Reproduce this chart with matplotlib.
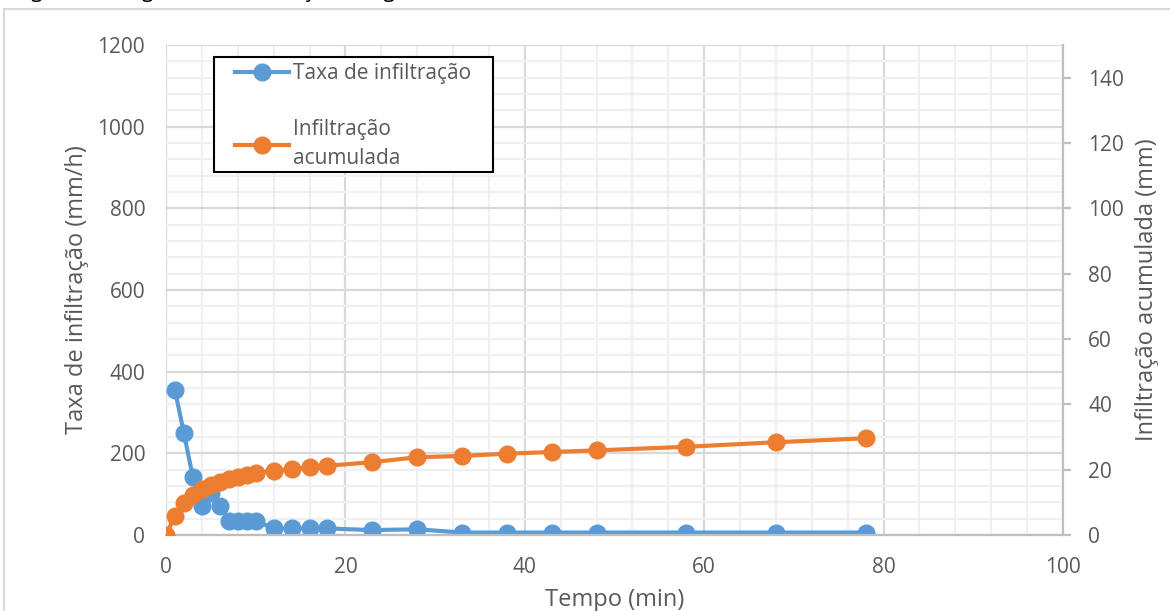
import matplotlib.pyplot as plt
from matplotlib.patches import Rectangle
from matplotlib.ticker import MultipleLocator

plt.rcParams['font.family'] = ['Open Sans', 'DejaVu Sans']

# tempo (min) e leituras do ensaio
tempo_taxa = [1, 2, 3, 4, 5, 6, 7, 8, 9, 10, 12, 14, 16, 18, 23, 28, 33, 38, 43, 48, 58, 68, 78]
taxa = [355, 249, 141, 71, 104, 71, 35, 35, 35, 35, 16, 16, 16, 16, 12, 14, 6, 6, 6, 6, 6, 6, 6]

tempo_acum = [0, 1, 2, 3, 4, 5, 6, 7, 8, 9, 10, 12, 14, 16, 18, 23, 28, 33, 38, 43, 48, 58, 68, 78]
acumulada = [0, 5.9, 9.9, 12.2, 14.0, 15.3, 16.3, 17.1, 17.9, 18.5, 19.1, 19.5, 20.1, 20.7,
             21.2, 22.3, 23.8, 24.2, 24.9, 25.4, 25.9, 27.0, 28.4, 29.6]

azul = '#5B9BD5'
laranja = '#ED7D31'
cinza = '#595959'

fig = plt.figure(figsize=(11.7, 6.11), dpi=100)
ax1 = fig.add_axes([166 / 1170, 76 / 611, 897 / 1170, 490 / 611])
ax2 = ax1.twinx()

# moldura externa do gráfico
fig.patches.append(Rectangle((4 / 1170, -0.05), 1.1, 1 - 9 / 611 + 0.05, transform=fig.transFigure,
                             fill=False, edgecolor='#D9D9D9', linewidth=1.5))
fig.text(15 / 1170, 1 + 19 / 611, 'Figura 3 - Diagrama de infiltração de água no solo do ensaio 3, acumulada',
         fontsize=15, color='black', va='top', ha='left')

ax1.plot(tempo_taxa, taxa, color=azul, linewidth=3, marker='o', markersize=12,
         label='Taxa de infiltração')
ax2.plot(tempo_acum, acumulada, color=laranja, linewidth=3, marker='o', markersize=12,
         label='Infiltração\nacumulada')

ax1.set_xlim(0, 100)
ax1.set_ylim(0, 1200)
ax2.set_ylim(0, 150)
ax1.xaxis.set_major_locator(MultipleLocator(20))
ax1.xaxis.set_minor_locator(MultipleLocator(4))
ax1.yaxis.set_major_locator(MultipleLocator(200))
ax1.yaxis.set_minor_locator(MultipleLocator(40))
ax2.set_yticks(range(0, 141, 20))

ax1.grid(which='minor', color='#F0F0F0', linewidth=1.6)
ax1.grid(which='major', color='#D9D9D9', linewidth=1.6)
ax1.set_axisbelow(True)

for ax in (ax1, ax2):
    for s in ax.spines.values():
        s.set_visible(False)
ax2.spines['right'].set_visible(True)
ax2.spines['right'].set_color('#BFBFBF')
ax2.spines['right'].set_linewidth(1.6)
ax1.spines['bottom'].set_visible(True)
ax1.spines['bottom'].set_color('#BFBFBF')
ax1.spines['bottom'].set_linewidth(1.6)

ax1.tick_params(axis='x', which='both', length=0, pad=16, labelsize=15, labelcolor=cinza)
ax1.tick_params(axis='y', which='both', length=0, pad=15, labelsize=15, labelcolor=cinza)
ax2.tick_params(axis='y', length=6, width=1.6, color='#BFBFBF', pad=12, labelsize=15, labelcolor=cinza)

ax1.set_xlabel('Tempo (min)', fontsize=17, color=cinza, labelpad=7)
ax1.set_ylabel('Taxa de infiltração (mm/h)', fontsize=17, color=cinza, labelpad=6)
ax2.set_ylabel('Infiltração acumulada (mm)', fontsize=17, color=cinza, labelpad=8)

# caixa preta da legenda, desenhada por baixo das entradas
caixa = Rectangle((214 / 1170, 1 - 172 / 611), 279 / 1170, 115 / 611,
                  transform=fig.transFigure, facecolor='white', edgecolor='black',
                  linewidth=1.5, zorder=4, clip_on=False)
ax2.add_artist(caixa)

h1, l1 = ax1.get_legend_handles_labels()
h2, l2 = ax2.get_legend_handles_labels()
leg = ax2.legend(h1 + h2, l1 + l2, loc='upper left', bbox_to_anchor=(235 / 1170, 1 - 63 / 611),
                 bbox_transform=fig.transFigure, borderaxespad=0, frameon=False,
                 fontsize=15, labelspacing=1.7, handlelength=2.6,
                 handletextpad=0.2, borderpad=0, labelcolor=cinza)
for t in leg.get_texts():
    t.set_linespacing(1.45)
leg.set_zorder(6)

fig.savefig('out.png', dpi=100)
